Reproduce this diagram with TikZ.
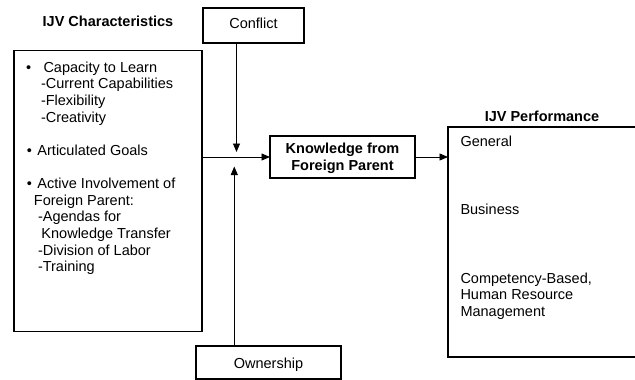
\documentclass[tikz,border=0pt]{standalone}
\usepackage{fontspec}
\setmainfont{Liberation Sans}
\usetikzlibrary{arrows.meta}
\begin{document}
\begin{tikzpicture}[x=1pt,y=-1pt,
  every node/.style={inner sep=0pt, outer sep=0pt, font=\fontsize{14.5}{16.7}\selectfont},
  box/.style={draw, line width=1.2pt, minimum width=#1},
  txt/.style={anchor=base west},
  ttl/.style={anchor=base, font=\fontsize{14.5}{16.7}\selectfont\bfseries},
  conn/.style={line width=0.9pt, -{Triangle[length=8.5pt,width=7pt]}}]
\useasboundingbox (0,0) rectangle (635,380);
% boxes
\node[box=188, minimum height=281] (lb) at (108,191) {};
\node[box=101, minimum height=35, text height=10pt, text depth=4pt] (cf) at (253.5,25.5) {Conflict};
\node[box=145, minimum height=33, text height=11pt, text depth=0pt] (ow) at (268.5,362.5) {Ownership};
\node[box=145, minimum height=42] (kb) at (342.5,157) {};
\node[box=196, minimum height=230] (pb) at (546,242) {};
% titles
\node[ttl] (t1) at (108,27) {IJV Characteristics};
\node[ttl] (t2) at (542,121) {IJV Performance};
\node[align=center, font=\fontsize{14.5}{17}\selectfont\bfseries] (kt) at ([yshift=-1.5pt]kb.center) {Knowledge from\\Foreign Parent};
% left box text
\node[txt] (b1) at (26,72) {•};
\node[txt] (l1) at (43.5,72) {Capacity to Learn};
\node[txt] (l2) at (41,88.7) {-Current Capabilities};
\node[txt] (l3) at (41,105.4) {-Flexibility};
\node[txt] (l4) at (41,122.1) {-Creativity};
\node[txt] (b2) at (27,155) {•};
\node[txt] (l5) at (37.5,155) {Articulated Goals};
\node[txt] (b3) at (27,188) {•};
\node[txt] (l6) at (37.5,188) {Active Involvement of};
\node[txt] (l7) at (34,205) {Foreign Parent:};
\node[txt] (l8) at (38,221.7) {-Agendas for};
\node[txt] (l9) at (41.5,238.4) {Knowledge Transfer};
\node[txt] (l10) at (38,255.1) {-Division of Labor};
\node[txt] (l11) at (38,271.8) {-Training};
% right box text
\node[txt] (r1) at (460.5,146) {General};
\node[txt] (r2) at (460.5,214) {Business};
\node[txt] (r3) at (460.5,283) {Competency-Based,};
\node[txt] (r4) at (460.5,299.7) {Human Resource};
\node[txt] (r5) at (460.5,316.4) {Management};
% connectors
\coordinate (ct) at (236.5,152);
\coordinate (ot) at (234.3,166.5);
\draw[conn] (cf.south -| ct) -- (ct);
\draw[conn] (ow.north -| ot) -- (ot);
\draw[conn] (lb.east |- kb.west) -- (kb.west);
\draw[conn] (kb.east) -- (pb.west |- kb.east);
\end{tikzpicture}
\end{document}
